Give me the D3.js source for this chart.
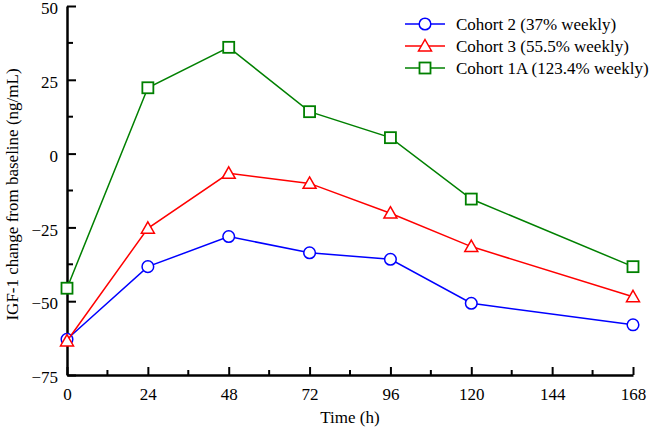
<!DOCTYPE html>
<html><head><meta charset="utf-8">
<script src="https://cdn.jsdelivr.net/npm/d3@7"></script>
<style>body{margin:0;background:#fff}svg{display:block}text{font-family:"Liberation Serif","Times New Roman",serif}</style>
</head><body><svg id="c" width="656" height="432"></svg>
<script>
const hours = [0, 24, 48, 72, 96, 120, 168];
const cohort2 = [-62.9, -38.3, -28.1, -33.6, -35.8, -50.7, -58.0];
const cohort3 = [-63.5, -25.3, -6.7, -10.1, -20.2, -31.5, -48.5];
const cohort1A = [-45.6, 22.3, 36.0, 14.2, 5.4, -15.4, -38.3];
const seriesNames = ["Cohort 2 (37% weekly)", "Cohort 3 (55.5% weekly)", "Cohort 1A (123.4% weekly)"];
const seriesColors = ["#0000ff", "#ff0000", "#008000"];
const seriesShapes = ["circle", "triangle", "square"];
const xTicks = [0, 24, 48, 72, 96, 120, 144, 168];
const yTicks = [-75, -50, -25, 0, 25, 50];
const xLabel = "Time (h)";
const yLabel = "IGF-1  change from baseline (ng/mL)";

const series = [cohort2, cohort3, cohort1A];
const svg = d3.select("#c");
const L = 67, R = 633, T = 6, B = 375;
const x = d3.scaleLinear().domain([0, 168]).range([L, R]);
const y = d3.scaleLinear().domain([-75, 50]).range([B, T]);
const fs = 17;

// minor ticks
const xMinor = d3.range(12, 168, 24);
const yMinor = d3.range(-62.5, 50, 25);
svg.append("g").selectAll("line").data(xMinor).join("line")
  .attr("x1", d => x(d)).attr("x2", d => x(d)).attr("y1", B).attr("y2", B - 5)
  .attr("stroke", "#000").attr("stroke-width", 2);
svg.append("g").selectAll("line").data(yMinor).join("line")
  .attr("y1", d => y(d)).attr("y2", d => y(d)).attr("x1", L).attr("x2", L + 6)
  .attr("stroke", "#000").attr("stroke-width", 2);

const gx = svg.append("g").attr("transform", `translate(0,${B})`)
  .call(d3.axisBottom(x).tickValues(xTicks).tickSizeInner(-8).tickSizeOuter(0).tickPadding(13));
const gy = svg.append("g").attr("transform", `translate(${L},0)`)
  .call(d3.axisLeft(y).tickValues(yTicks).tickSizeInner(-9).tickSizeOuter(0).tickPadding(9)
    .tickFormat(d => d < 0 ? "\u2212" + Math.abs(d) : d));
[gx, gy].forEach(g => {
  g.select(".domain").attr("stroke-width", 2.5);
  g.selectAll(".tick line").attr("stroke-width", 2);
  g.selectAll("text").attr("font-size", fs).attr("font-family", "Liberation Serif").attr("fill", "#000");
});
gy.selectAll("text").attr("dy", "0.45em");

svg.append("text").attr("x", (L + R) / 2).attr("y", 423).attr("text-anchor", "middle")
  .attr("font-size", fs).text(xLabel);
svg.append("text").attr("transform", `translate(18,${(T + B) / 2 + 4}) rotate(-90)`)
  .attr("text-anchor", "middle").attr("font-size", fs).text(yLabel);

function marker(g, shape, cx, cy, color) {
  if (shape === "circle") {
    g.append("circle").attr("cx", cx).attr("cy", cy).attr("r", 5.8)
      .attr("fill", "#fff").attr("stroke", color).attr("stroke-width", 1.5);
  } else if (shape === "square") {
    g.append("rect").attr("x", cx - 5.5).attr("y", cy - 5.5).attr("width", 11).attr("height", 11)
      .attr("fill", "#fff").attr("stroke", color).attr("stroke-width", 1.8);
  } else {
    const s = 6.5;
    g.append("path").attr("d", `M${cx},${cy - s}L${cx + s},${cy + s * 0.75}L${cx - s},${cy + s * 0.75}Z`)
      .attr("fill", "#fff").attr("stroke", color).attr("stroke-width", 1.5);
  }
}

const line = d3.line().x((d, i) => x(hours[i])).y(d => y(d));
series.forEach((s, k) => {
  const g = svg.append("g");
  g.append("path").attr("d", line(s)).attr("fill", "none")
    .attr("stroke", seriesColors[k]).attr("stroke-width", 1.5);
  s.forEach((v, i) => marker(g, seriesShapes[k], x(hours[i]), y(v), seriesColors[k]));
});

// legend
const legY = [24, 46, 68];
seriesNames.forEach((n, k) => {
  const g = svg.append("g");
  g.append("line").attr("x1", 405).attr("x2", 445).attr("y1", legY[k]).attr("y2", legY[k])
    .attr("stroke", seriesColors[k]).attr("stroke-width", 1.5);
  marker(g, seriesShapes[k], 425, legY[k], seriesColors[k]);
  g.append("text").attr("x", 456).attr("y", legY[k]).attr("dy", "0.35em")
    .attr("font-size", fs).text(n);
});
</script></body></html>
